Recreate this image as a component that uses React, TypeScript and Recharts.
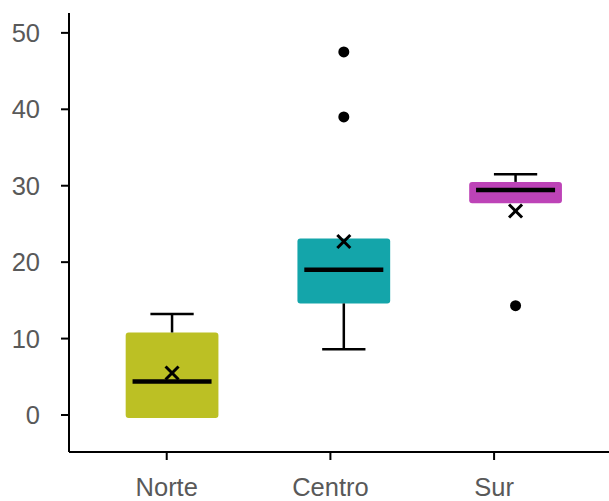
import { ComposedChart, XAxis, YAxis, Scatter, ReferenceArea, ReferenceLine, Rectangle } from 'recharts'

const regions = ['Norte', 'Centro', 'Sur']
const q1 = [-0.4, 14.6, 27.7]
const q3 = [10.8, 23.1, 30.5]
const medians = [4.4, 19.0, 29.45]
const whiskerLow = [-0.4, 8.6, 27.7]
const whiskerHigh = [13.2, 23.1, 31.5]
const means = [5.5, 22.7, 26.7]
const outlierRegion = [1, 1, 2]
const outlierValues = [47.5, 39.0, 14.3]
const yTicks = [0, 10, 20, 30, 40, 50]

const boxColors = ['#BCC024', '#14A5AA', '#BD43B7']
const labelColor = '#595959'
const font = '"Liberation Sans", Arial, sans-serif'

const meanData = means.map((m, i) => ({ x: i, y: m }))
const outlierData = outlierValues.map((v, i) => ({ x: outlierRegion[i], y: v }))

const MeanMark = (props: any) => {
  const { cx, cy } = props
  const s = 6.5
  return (
    <g>
      <line x1={cx - s} y1={cy - s} x2={cx + s} y2={cy + s} stroke="#000" strokeWidth={3} />
      <line x1={cx - s} y1={cy + s} x2={cx + s} y2={cy - s} stroke="#000" strokeWidth={3} />
    </g>
  )
}

const OutlierDot = (props: any) => <circle cx={props.cx} cy={props.cy} r={5.5} fill="#000" />

export default function App() {
  const boxHalf = 0.27
  const medianHalf = 0.23
  const capHalf = 0.126

  return (
    <div style={{ position: 'absolute', left: 0, top: 0 }}>
      <ComposedChart width={609} height={501} margin={{ top: 13, right: 0, bottom: 0, left: 0 }}>
        <XAxis
          xAxisId="lab"
          dataKey="x"
          type="number"
          domain={[-0.597, 2.702]}
          ticks={[0, 1, 2]}
          interval={0}
          allowDataOverflow
          tickFormatter={(v: number) => regions[v]}
          axisLine={{ stroke: '#000', strokeWidth: 2 }}
          tickLine={{ stroke: '#000', strokeWidth: 2 }}
          tickSize={8}
          tickMargin={18}
          height={49}
          tick={{ fill: labelColor, fontSize: 25.5, fontFamily: font }}
        />
        <XAxis xAxisId="box" dataKey="x" type="number" domain={[-0.6, 2.544]} allowDataOverflow hide height={0} />
        <YAxis
          dataKey="y"
          type="number"
          domain={[-4.84, 52.6]}
          ticks={yTicks}
          interval={0}
          allowDataOverflow
          width={69}
          axisLine={{ stroke: '#000', strokeWidth: 2 }}
          tickLine={{ stroke: '#000', strokeWidth: 2 }}
          tickSize={8}
          tickMargin={21}
          tick={{ fill: labelColor, fontSize: 25.5, fontFamily: font }}
        />

        {regions.map((r, i) =>
          whiskerHigh[i] > q3[i] ? (
            <ReferenceLine
              key={'wh' + r}
              xAxisId="box"
              segment={[{ x: i, y: q3[i] }, { x: i, y: whiskerHigh[i] }]}
              stroke="#000"
              strokeWidth={2.5}
            />
          ) : null
        )}
        {regions.map((r, i) =>
          whiskerHigh[i] > q3[i] ? (
            <ReferenceLine
              key={'ch' + r}
              xAxisId="box"
              segment={[{ x: i - capHalf, y: whiskerHigh[i] }, { x: i + capHalf, y: whiskerHigh[i] }]}
              stroke="#000"
              strokeWidth={2.5}
            />
          ) : null
        )}
        {regions.map((r, i) =>
          whiskerLow[i] < q1[i] ? (
            <ReferenceLine
              key={'wl' + r}
              xAxisId="box"
              segment={[{ x: i, y: q1[i] }, { x: i, y: whiskerLow[i] }]}
              stroke="#000"
              strokeWidth={2.5}
            />
          ) : null
        )}
        {regions.map((r, i) =>
          whiskerLow[i] < q1[i] ? (
            <ReferenceLine
              key={'cl' + r}
              xAxisId="box"
              segment={[{ x: i - capHalf, y: whiskerLow[i] }, { x: i + capHalf, y: whiskerLow[i] }]}
              stroke="#000"
              strokeWidth={2.5}
            />
          ) : null
        )}

        {regions.map((r, i) => (
          <ReferenceArea
            key={'box' + r}
            xAxisId="box"
            x1={i - boxHalf}
            x2={i + boxHalf}
            y1={q1[i]}
            y2={q3[i]}
            fill={boxColors[i]}
            fillOpacity={1}
            stroke="none"
            shape={(p: any) => <Rectangle {...p} radius={3} fill={boxColors[i]} fillOpacity={1} stroke="none" />}
          />
        ))}

        {regions.map((r, i) => (
          <ReferenceLine
            key={'med' + r}
            xAxisId="box"
            segment={[{ x: i - medianHalf, y: medians[i] }, { x: i + medianHalf, y: medians[i] }]}
            stroke="#000"
            strokeWidth={4.5}
          />
        ))}

        <Scatter xAxisId="box" data={outlierData} dataKey="y" shape={OutlierDot} isAnimationActive={false} />
        <Scatter xAxisId="box" data={meanData} dataKey="y" shape={MeanMark} isAnimationActive={false} />
      </ComposedChart>
    </div>
  )
}
